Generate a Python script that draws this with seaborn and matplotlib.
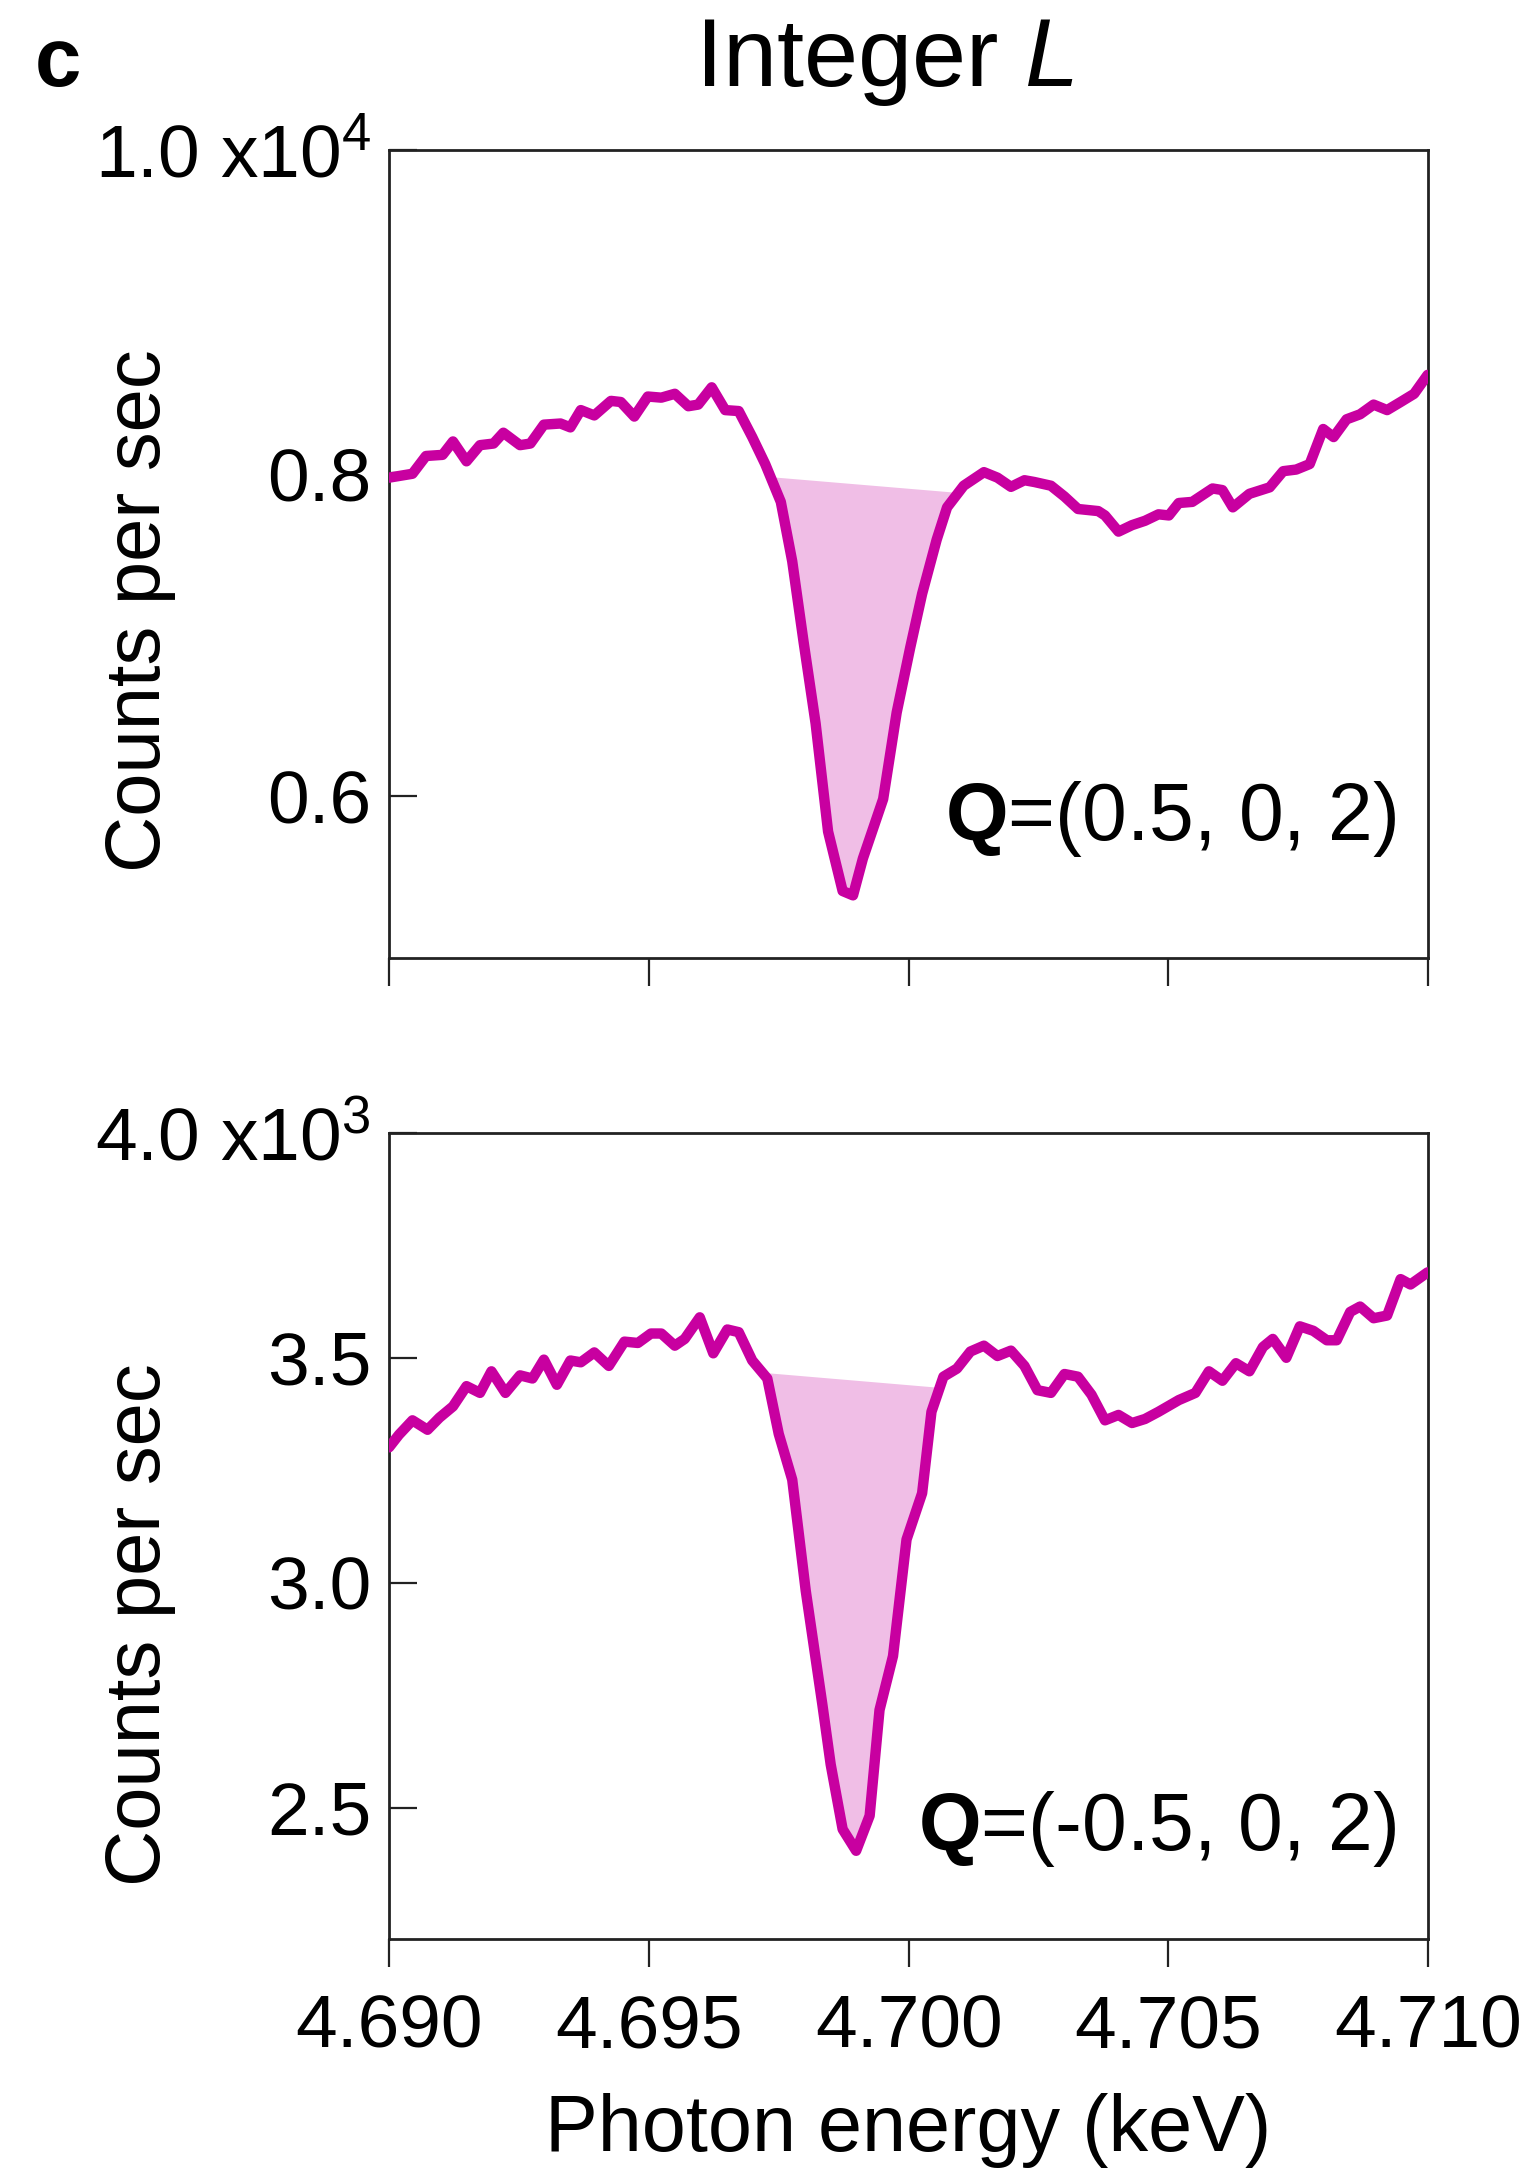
import numpy as np
import pandas as pd
import matplotlib
matplotlib.use("Agg")
import matplotlib.pyplot as plt
import seaborn as sns

# Photon energy (keV) and counts per second, Q = (0.5, 0, 2)
energy_top = [4.69000, 4.69045, 4.69071, 4.69103, 4.69123, 4.69149, 4.69175, 4.69201, 4.69220, 4.69252,
              4.69272, 4.69298, 4.69330, 4.69349, 4.69369, 4.69395, 4.69427, 4.69446, 4.69472, 4.69498,
              4.69524, 4.69550, 4.69576, 4.69595, 4.69621, 4.69647, 4.69673, 4.69699, 4.69724, 4.69754,
              4.69776, 4.69798, 4.69821, 4.69845, 4.69873, 4.69893, 4.69912, 4.69951, 4.69977, 4.70003,
              4.70026, 4.70054, 4.70074, 4.70106, 4.70145, 4.70171, 4.70197, 4.70223, 4.70242, 4.70274,
              4.70300, 4.70326, 4.70365, 4.70378, 4.70404, 4.70430, 4.70455, 4.70481, 4.70501, 4.70520,
              4.70546, 4.70585, 4.70604, 4.70624, 4.70656, 4.70695, 4.70721, 4.70746, 4.70772, 4.70798,
              4.70818, 4.70843, 4.70869, 4.70895, 4.70921, 4.70947, 4.70973, 4.70999]
counts_top = [7973, 7997, 8107, 8114, 8197, 8074, 8174, 8184, 8251, 8174,
              8184, 8301, 8308, 8284, 8391, 8358, 8448, 8441, 8351, 8475,
              8468, 8492, 8415, 8425, 8532, 8391, 8385, 8224, 8057, 7823,
              7455, 6953, 6452, 5783, 5415, 5388, 5616, 5984, 6519, 6920,
              7254, 7589, 7789, 7923, 8007, 7973, 7916, 7957, 7946, 7923,
              7856, 7779, 7766, 7739, 7639, 7679, 7706, 7746, 7739, 7816,
              7823, 7906, 7896, 7789, 7873, 7913, 8013, 8023, 8057, 8274,
              8224, 8334, 8365, 8425, 8391, 8441, 8492, 8609]

# Photon energy (keV) and counts per second, Q = (-0.5, 0, 2)
energy_bot = [4.69000, 4.69019, 4.69045, 4.69074, 4.69097, 4.69123, 4.69149, 4.69175, 4.69197, 4.69224,
              4.69252, 4.69276, 4.69298, 4.69323, 4.69349, 4.69369, 4.69395, 4.69423, 4.69453, 4.69479,
              4.69504, 4.69524, 4.69550, 4.69569, 4.69598, 4.69624, 4.69651, 4.69673, 4.69699, 4.69728,
              4.69750, 4.69776, 4.69802, 4.69834, 4.69850, 4.69873, 4.69899, 4.69925, 4.69944, 4.69970,
              4.69996, 4.70026, 4.70044, 4.70067, 4.70093, 4.70119, 4.70145, 4.70171, 4.70197, 4.70223,
              4.70248, 4.70274, 4.70300, 4.70326, 4.70352, 4.70378, 4.70404, 4.70430, 4.70455, 4.70481,
              4.70520, 4.70552, 4.70578, 4.70604, 4.70630, 4.70656, 4.70682, 4.70701, 4.70727, 4.70753,
              4.70779, 4.70805, 4.70824, 4.70850, 4.70869, 4.70895, 4.70921, 4.70947, 4.70966, 4.70999]
counts_bot = [3301, 3329, 3361, 3340, 3367, 3392, 3437, 3422, 3470, 3422,
              3461, 3454, 3496, 3440, 3494, 3490, 3512, 3482, 3536, 3533,
              3554, 3554, 3527, 3542, 3590, 3510, 3563, 3557, 3494, 3454,
              3331, 3229, 2982, 2729, 2596, 2452, 2404, 2482, 2717, 2837,
              3096, 3199, 3380, 3458, 3476, 3514, 3527, 3504, 3516, 3482,
              3428, 3422, 3464, 3458, 3418, 3361, 3373, 3355, 3364, 3380,
              3406, 3422, 3470, 3449, 3488, 3470, 3524, 3542, 3500, 3570,
              3560, 3539, 3539, 3602, 3614, 3588, 3594, 3675, 3663, 3690]

# Energy window of the shaded dip (keV)
dip_top = (4.69734, 4.70096)
dip_bot = (4.69718, 4.70060)

q_labels = ["=(0.5, 0, 2)", "=(-0.5, 0, 2)"]
x_ticks = [4.690, 4.695, 4.700, 4.705, 4.710]
x_ticklabels = ["4.690", "4.695", "4.700", "4.705", "4.710"]
y_ticks_top = [6000, 8000, 10000]
y_ticklabels_top = ["0.6", "0.8", "1.0 x10$^{4}$"]
y_ticks_bot = [2500, 3000, 3500, 4000]
y_ticklabels_bot = ["2.5", "3.0", "3.5", "4.0 x10$^{3}$"]

LINE = "#c800a0"
FILL = "#f0bee6"
INK = "black"

sns.set_theme(style="ticks")
plt.rcParams["font.family"] = ["Liberation Sans", "DejaVu Sans"]
plt.rcParams["mathtext.fontset"] = "custom"
plt.rcParams["mathtext.rm"] = "Liberation Sans"
plt.rcParams["mathtext.it"] = "Liberation Sans:italic"
plt.rcParams["mathtext.bf"] = "Liberation Sans:bold"
plt.rcParams["text.color"] = INK
plt.rcParams["axes.labelcolor"] = INK
plt.rcParams["xtick.color"] = INK
plt.rcParams["ytick.color"] = INK

fig = plt.figure(figsize=(15.33, 21.72), dpi=100)
ax_top = fig.add_axes([0.2538, 0.5589, 0.6778, 0.3720])
ax_bot = fig.add_axes([0.2538, 0.1073, 0.6778, 0.3711])

panels = [
    (ax_top, energy_top, counts_top, dip_top, (5000, 10000), y_ticks_top, y_ticklabels_top, q_labels[0], 0.146, 0.43),
    (ax_bot, energy_bot, counts_bot, dip_bot, (2208, 4000), y_ticks_bot, y_ticklabels_bot, q_labels[1], 0.11, 0.39),
]

for ax, ex, cy, dip, ylim, yt, ytl, qlab, qy, ylab_y in panels:
    df = pd.DataFrame({"energy": ex, "counts": cy})
    ex_arr = np.asarray(ex)
    cy_arr = np.asarray(cy, dtype=float)

    # Shaded area between the dip and a straight baseline across it
    e0, e1 = dip
    inner = ex_arr[(ex_arr > e0) & (ex_arr < e1)]
    grid = np.concatenate([[e0], inner, [e1]])
    curve = np.interp(grid, ex_arr, cy_arr)
    c0, c1 = curve[0], curve[-1]
    base = c0 + (c1 - c0) * (grid - e0) / (e1 - e0)
    ax.fill_between(grid, curve, base, color=FILL, linewidth=0, zorder=1)

    sns.lineplot(data=df, x="energy", y="counts", ax=ax, color=LINE,
                 zorder=3, estimator=None)
    for ln in ax.lines:
        ln.set_linewidth(7.5)
        ln.set_solid_joinstyle("round")
        ln.set_solid_capstyle("round")

    ax.set_xlim(4.690, 4.710)
    ax.set_ylim(*ylim)
    ax.set_xticks(x_ticks)
    ax.set_yticks(yt)
    ax.set_yticklabels(ytl)
    ax.tick_params(axis="x", direction="out", length=20, width=1.6, pad=19,
                   labelsize=54, color="#222222")
    ax.tick_params(axis="y", direction="in", length=20, width=1.6, pad=13,
                   labelsize=54, color="#222222")
    for sp in ax.spines.values():
        sp.set_visible(True)
        sp.set_linewidth(2.0)
        sp.set_color("#222222")

    ax.set_ylabel("Counts per sec", fontsize=56)
    ax.yaxis.set_label_coords(-0.205, ylab_y)
    ax.set_xlabel("")

    ax.text(0.969, qy, r"$\mathbf{Q}$" + qlab, transform=ax.transAxes,
            ha="right", va="baseline", fontsize=58)

ax_top.set_xticklabels([])
ax_bot.set_xticklabels(x_ticklabels)
ax_bot.set_xlabel("Photon energy (keV)", fontsize=57, labelpad=22)

fig.text(0.0228, 0.9604, "c", ha="left", va="baseline", fontsize=60, fontweight="bold")
fig.text(0.577, 0.9604, "Integer $L$", ha="center", va="baseline", fontsize=70)

fig.savefig("out.png", dpi=100, facecolor="white")
